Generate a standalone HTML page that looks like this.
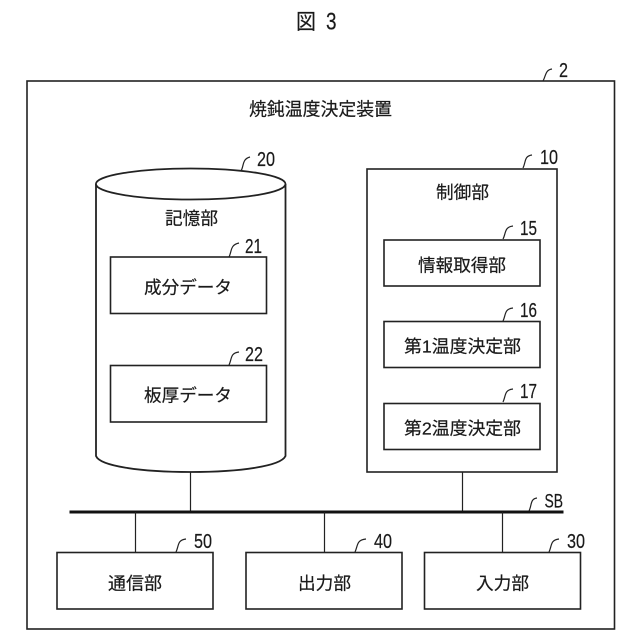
<!DOCTYPE html>
<html lang="ja">
<head>
<meta charset="utf-8">
<style>
html,body{margin:0;padding:0;background:#fff;width:640px;height:640px;overflow:hidden}
svg{display:block}
text{font-family:"Liberation Sans","Noto Sans CJK JP",sans-serif;fill:#1a1a1a;stroke:#1a1a1a;stroke-width:.2}
.j{font-size:17.5px;text-anchor:start}
.n{font-size:20px}
.b{fill:#fff;stroke:#222;stroke-width:1.6}
.l{fill:none;stroke:#222;stroke-width:1.2}
.c{fill:none;stroke:#222;stroke-width:1.2}
</style>
</head>
<body>
<svg width="640" height="640" viewBox="0 0 640 640" xmlns="http://www.w3.org/2000/svg">
<text x="296" y="29" style="font-size:21px" textLength="20" lengthAdjust="spacingAndGlyphs">図</text>
<text x="326" y="29.5" style="font-size:24px" textLength="10.5" lengthAdjust="spacingAndGlyphs">3</text>

<rect class="b" x="27" y="81" width="587.5" height="548"/>
<path class="c" d="M543 81 C546 76 545 70 552 69"/>
<text class="n" x="559" y="77" textLength="9" lengthAdjust="spacingAndGlyphs">2</text>
<text class="j" x="249" y="115.5" textLength="143" lengthAdjust="spacingAndGlyphs" style="font-size:18px">焼鈍温度決定装置</text>

<path class="b" style="stroke-width:1.8" d="M96 184 V456 C100 466 140 472 190.7 472 C241 472 281 466 285.5 456 V184"/>
<ellipse class="b" style="stroke-width:1.8" cx="190.7" cy="184" rx="94.8" ry="15.5"/>
<path class="c" d="M241 171 C244 166 242 159 250 157"/>
<text class="n" x="257" y="166" textLength="18" lengthAdjust="spacingAndGlyphs">20</text>
<text class="j" x="165" y="224.7" textLength="53" lengthAdjust="spacingAndGlyphs">記憶部</text>

<rect class="b" x="110.5" y="257" width="156" height="56.5"/>
<path class="c" d="M229 257 C232 251 230 245 239 243"/>
<text class="n" x="245" y="253" textLength="17" lengthAdjust="spacingAndGlyphs">21</text>
<text class="j" x="144" y="293.5" textLength="88" lengthAdjust="spacingAndGlyphs">成分データ</text>

<rect class="b" x="110.5" y="365.5" width="156" height="56.5"/>
<path class="c" d="M229 365 C232 359 230 353 239 352"/>
<text class="n" x="245" y="361" textLength="18" lengthAdjust="spacingAndGlyphs">22</text>
<text class="j" x="144" y="401.5" textLength="88" lengthAdjust="spacingAndGlyphs">板厚データ</text>

<rect class="b" x="367" y="169" width="190" height="303"/>
<path class="c" d="M523 168 C526 162 524 156 532 155"/>
<text class="n" x="540" y="164" textLength="18" lengthAdjust="spacingAndGlyphs">10</text>
<text class="j" x="436" y="198.7" textLength="53" lengthAdjust="spacingAndGlyphs">制御部</text>

<rect class="b" x="384" y="240" width="156" height="46"/>
<path class="c" d="M503 239 C506 234 504 227 513 226"/>
<text class="n" x="520" y="235" textLength="17" lengthAdjust="spacingAndGlyphs">15</text>
<text class="j" x="418" y="271.7" textLength="88" lengthAdjust="spacingAndGlyphs">情報取得部</text>

<rect class="b" x="384" y="321.5" width="156" height="46"/>
<path class="c" d="M503 321 C506 315 504 309 513 308"/>
<text class="n" x="520" y="317" textLength="17" lengthAdjust="spacingAndGlyphs">16</text>
<text class="j" x="404" y="352.7" textLength="117" lengthAdjust="spacingAndGlyphs">第1温度決定部</text>

<rect class="b" x="384" y="403.5" width="156" height="46"/>
<path class="c" d="M503 402 C506 396 504 390 513 389"/>
<text class="n" x="520" y="398" textLength="17" lengthAdjust="spacingAndGlyphs">17</text>
<text class="j" x="404" y="434.7" textLength="117" lengthAdjust="spacingAndGlyphs">第2温度決定部</text>

<line class="l" x1="190.5" y1="472" x2="190.5" y2="512"/>
<line class="l" x1="462.5" y1="472" x2="462.5" y2="512"/>
<line x1="69.5" y1="512" x2="563.5" y2="512" stroke="#111" stroke-width="3"/>
<path class="c" d="M529 511 C532 505 530 499 537 498"/>
<text class="n" style="font-size:19px" x="544.5" y="507.5" textLength="18.5" lengthAdjust="spacingAndGlyphs">SB</text>

<line class="l" x1="135.5" y1="512" x2="135.5" y2="552"/>
<line class="l" x1="324.5" y1="512" x2="324.5" y2="552"/>
<line class="l" x1="502.5" y1="512" x2="502.5" y2="552"/>

<rect class="b" x="57" y="552.5" width="156" height="56.5"/>
<path class="c" d="M176 552 C179 546 177 540 186 539"/>
<text class="n" x="194" y="548" textLength="18" lengthAdjust="spacingAndGlyphs">50</text>
<text class="j" x="108" y="589.5" textLength="54" lengthAdjust="spacingAndGlyphs">通信部</text>

<rect class="b" x="246" y="552.5" width="156" height="56.5"/>
<path class="c" d="M355 552 C358 546 356 540 366 539"/>
<text class="n" x="374" y="548" textLength="18" lengthAdjust="spacingAndGlyphs">40</text>
<text class="j" x="298" y="589.5" textLength="53" lengthAdjust="spacingAndGlyphs">出力部</text>

<rect class="b" x="424.5" y="552.5" width="156" height="56.5"/>
<path class="c" d="M549 552 C552 546 550 540 559 539"/>
<text class="n" x="567" y="548" textLength="18" lengthAdjust="spacingAndGlyphs">30</text>
<text class="j" x="476" y="589.5" textLength="53" lengthAdjust="spacingAndGlyphs">入力部</text>
</svg>
</body>
</html>
